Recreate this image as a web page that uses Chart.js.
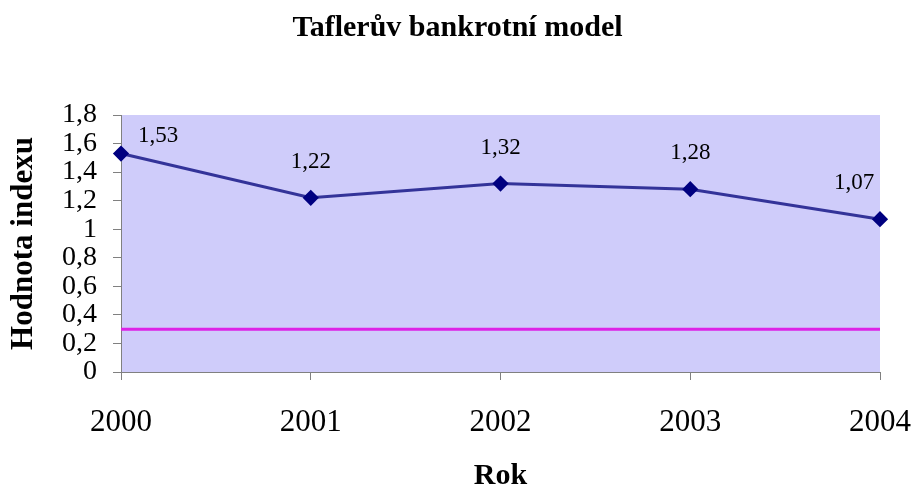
<!DOCTYPE html>
<html>
<head>
<meta charset="utf-8">
<script src="https://cdn.jsdelivr.net/npm/chart.js@4.4.1/dist/chart.umd.min.js"></script>
<style>
html,body{margin:0;padding:0;background:#fff;}
#wrap{width:915px;height:489px;position:relative;}
</style>
</head>
<body>
<div id="wrap"><canvas id="c"></canvas></div>
<script>
const years = ['2000', '2001', '2002', '2003', '2004'];
const indexValues = [1.53, 1.22, 1.32, 1.28, 1.07];
const thresholdValues = [0.3, 0.3, 0.3, 0.3, 0.3];
const chartTitle = 'Taflerův bankrotní model';
const yTitle = 'Hodnota indexu';
const xTitle = 'Rok';

const fmt = v => String(Math.round(v * 100) / 100).replace('.', ',');
const serif = 'Liberation Serif, Times New Roman, serif';

const bgPlugin = {
  id: 'plotBg',
  beforeDraw(chart) {
    const {ctx, chartArea: a} = chart;
    ctx.save();
    ctx.fillStyle = '#CFCCFA';
    ctx.fillRect(a.left, a.top, a.right - a.left, a.bottom - a.top);
    ctx.restore();
  }
};

const titlePlugin = {
  id: 'pageTitle',
  afterDraw(chart) {
    const {ctx, chartArea: a} = chart;
    ctx.save();
    ctx.fillStyle = '#000';
    ctx.textAlign = 'center';
    ctx.textBaseline = 'middle';
    ctx.font = 'bold 30px ' + serif;
    ctx.fillText(chartTitle, chart.width / 2, 28);
    ctx.fillText(xTitle, (a.left + a.right) / 2, 476);
    ctx.restore();
  }
};

const labelPlugin = {
  id: 'valueLabels',
  afterDatasetsDraw(chart) {
    const {ctx} = chart;
    const meta = chart.getDatasetMeta(0);
    const n = meta.data.length;
    ctx.save();
    ctx.font = '23px ' + serif;
    ctx.fillStyle = '#000';
    ctx.textBaseline = 'middle';
    meta.data.forEach((pt, i) => {
      let x = pt.x, y = pt.y - 36;
      ctx.textAlign = 'center';
      if (i === 0) { x = pt.x + 37; y = pt.y - 18; }
      if (i === n - 1) { x = pt.x - 26; }
      ctx.fillText(fmt(indexValues[i]), x, y);
    });
    ctx.restore();
  }
};

new Chart(document.getElementById('c'), {
  type: 'line',
  data: {
    labels: years,
    datasets: [
      {
        data: indexValues,
        borderColor: '#333399',
        borderWidth: 3,
        pointStyle: 'rectRot',
        pointRadius: 6,
        pointBackgroundColor: '#000080',
        pointBorderColor: '#000080',
        tension: 0,
        clip: false
      },
      {
        data: thresholdValues,
        borderColor: '#DD22E6',
        borderWidth: 3,
        pointRadius: 0,
        tension: 0
      }
    ]
  },
  options: {
    responsive: true,
    maintainAspectRatio: false,
    animation: false,
    layout: {padding: {left: 0, right: 35, top: 115, bottom: 0}},
    plugins: {
      legend: {display: false},
      tooltip: {enabled: false},
      title: {display: false}
    },
    scales: {
      x: {
        offset: false,
        grid: {drawOnChartArea: false, drawTicks: true, tickLength: 8, color: '#808080'},
        border: {display: true, color: '#808080', width: 1},
        ticks: {color: '#000', font: {family: serif, size: 31}, padding: 24, maxRotation: 0, autoSkip: false},
        title: {display: false, text: xTitle},
        afterFit(s) { s.height = 117; s.paddingLeft = 0; s.paddingRight = 0; }
      },
      y: {
        min: 0, max: 1.8,
        grid: {drawOnChartArea: false, drawTicks: true, tickLength: 8, color: '#808080'},
        border: {display: true, color: '#808080', width: 1},
        ticks: {stepSize: 0.2, autoSkip: false, color: '#000', font: {family: serif, size: 28, lineHeight: 1}, padding: 16,
          callback: v => fmt(v)},
        title: {display: true, text: yTitle, color: '#000', font: {family: serif, size: 31, weight: 'bold'}, padding: {top: 5, bottom: 0}},
        afterFit(s) { s.width = 121; s.paddingTop = 0; s.paddingBottom = 0; }
      }
    }
  },
  plugins: [bgPlugin, labelPlugin, titlePlugin]
});
</script>
</body>
</html>
